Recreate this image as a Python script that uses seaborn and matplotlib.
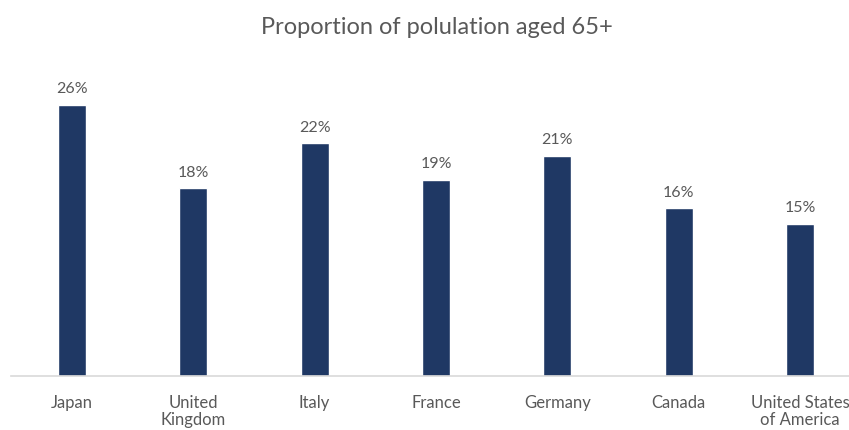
import matplotlib
matplotlib.use("Agg")
import matplotlib.pyplot as plt
import seaborn as sns
import pandas as pd

# data
countries = ["Japan", "United\nKingdom", "Italy", "France", "Germany", "Canada", "United States\nof America"]
share = [26.0, 18.0, 22.3, 18.8, 21.1, 16.1, 14.6]

df = pd.DataFrame({"country": countries, "share": share})

sns.set_theme(style="white")
plt.rcParams["font.family"] = ["Lato", "DejaVu Sans"]

grey = "#595959"
navy = "#1F3864"

fig = plt.figure(figsize=(8.49, 4.31), dpi=100)
# axes runs past the right edge, like the cropped original
ax = fig.add_axes([11 / 849, 54 / 431, 850 / 849, 313 / 431])

sns.barplot(data=df, x="country", y="share", color=navy, width=0.23,
            saturation=1, ax=ax)

for i, v in enumerate(share):
    ax.text(i, v + 0.9, f"{v:.0f}%", ha="center", va="bottom",
            fontsize=11.5, color=grey)

ax.set_ylim(0, 30)
ax.set_xlim(-0.5, 6.5)
ax.set_yticks([])
ax.set_xlabel("")
ax.set_ylabel("")
for s in ["top", "right", "left"]:
    ax.spines[s].set_visible(False)
ax.spines["bottom"].set_color("#D9D9D9")
ax.spines["bottom"].set_linewidth(1.2)
ax.tick_params(axis="x", length=0, pad=13, labelsize=12, labelcolor=grey)
for lab in ax.get_xticklabels():
    lab.set_linespacing(1.1)

fig.text(437 / 849, 1 - 27 / 431, "Proportion of polulation aged 65+",
         ha="center", va="center", fontsize=17, color=grey)

fig.savefig("out.png", dpi=100)
